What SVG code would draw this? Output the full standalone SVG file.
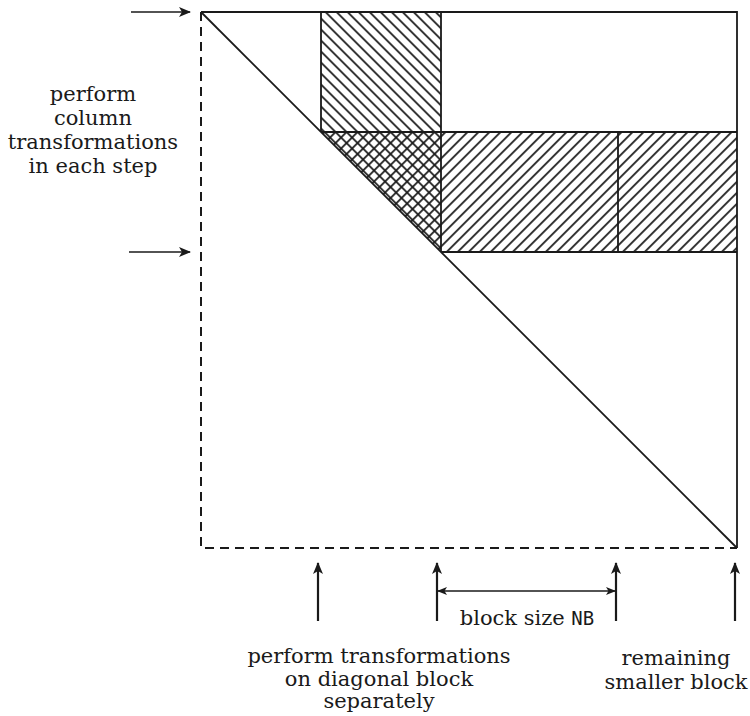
<svg xmlns="http://www.w3.org/2000/svg" width="750" height="716" viewBox="0 0 750 716">
<style>
.ln{stroke:#1a1a1a;stroke-width:1.8;fill:none}
.ds{stroke:#1a1a1a;stroke-width:2;fill:none;stroke-dasharray:9 6}
.ar{stroke:#1a1a1a;stroke-width:1.6;fill:none}
.arb{stroke:#1a1a1a;stroke-width:2.2;fill:none}
.t{font-family:"DejaVu Serif","Liberation Serif",serif;font-size:21px;fill:#1a1a1a;text-anchor:middle}
.m{font-family:"DejaVu Sans Mono","Liberation Mono",monospace;font-size:19px}
</style>
<defs>
<pattern id="hs" width="7.78" height="10" patternUnits="userSpaceOnUse" patternTransform="rotate(45)">
<line x1="3.89" y1="-1" x2="3.89" y2="11" stroke="#1a1a1a" stroke-width="1.7"/>
</pattern>
<pattern id="hb" width="7.78" height="10" patternUnits="userSpaceOnUse" patternTransform="rotate(-45)">
<line x1="3.89" y1="-1" x2="3.89" y2="11" stroke="#1a1a1a" stroke-width="1.7"/>
</pattern>
<marker id="ah" viewBox="0 0 12 10" refX="11" refY="5" markerWidth="12" markerHeight="10" markerUnits="userSpaceOnUse" orient="auto">
<path d="M0,0 L12,5 L0,10 L3,5 Z" fill="#1a1a1a"/>
</marker>
<marker id="ahs" viewBox="0 0 10 8" refX="9" refY="4" markerWidth="10" markerHeight="8" markerUnits="userSpaceOnUse" orient="auto-start-reverse">
<path d="M0,0 L10,4 L0,8 L2.5,4 Z" fill="#1a1a1a"/>
</marker>
</defs>
<g id="matrix">
<rect x="321" y="12" width="120" height="120" fill="url(#hb)"/>
<polygon points="321,132 441,132 441,252" fill="url(#hb)"/>
<polygon points="321,132 441,132 441,252" fill="url(#hs)"/>
<rect x="441" y="132" width="296" height="120" fill="url(#hs)"/>
<path class="ln" d="M201,12 H737 V548"/>
<path class="ds" d="M201,12 V548 H737"/>
<path class="ln" d="M201,12 L737,548"/>
<path class="ln" d="M321,12 V132 M441,12 V252 M321,132 H737 M441,252 H737 M618,132 V252"/>
</g>
<g id="connectors">
<line class="ar" x1="131" y1="12" x2="190" y2="12" marker-end="url(#ah)"/>
<line class="ar" x1="129" y1="252" x2="190" y2="252" marker-end="url(#ah)"/>
<line class="arb" x1="318" y1="621" x2="318" y2="563" marker-end="url(#ah)"/>
<line class="arb" x1="437" y1="621" x2="437" y2="563" marker-end="url(#ah)"/>
<line class="arb" x1="616" y1="621" x2="616" y2="563" marker-end="url(#ah)"/>
<line class="arb" x1="735" y1="621" x2="735" y2="563" marker-end="url(#ah)"/>
<line class="ar" x1="438" y1="591" x2="615" y2="591" marker-start="url(#ahs)" marker-end="url(#ahs)"/>
</g>
<g id="label-left">
<text class="t" x="93" y="101">perform</text>
<text class="t" x="93" y="125">column</text>
<text class="t" x="93" y="149">transformations</text>
<text class="t" x="93" y="173">in each step</text>
</g>
<g id="label-block">
<text class="t" x="527" y="625">block size <tspan class="m">NB</tspan></text>
</g>
<g id="label-diag">
<text class="t" x="379" y="663">perform transformations</text>
<text class="t" x="379" y="686">on diagonal block</text>
<text class="t" x="379" y="708">separately</text>
</g>
<g id="label-remaining">
<text class="t" x="676" y="665">remaining</text>
<text class="t" x="676" y="689">smaller block</text>
</g>
</svg>
